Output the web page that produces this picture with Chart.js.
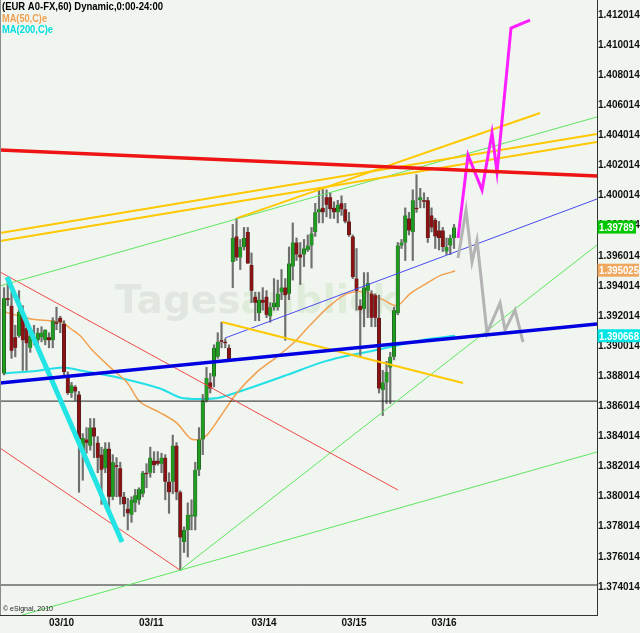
<!DOCTYPE html>
<html>
<head>
<meta charset="utf-8">
<script src="https://cdn.jsdelivr.net/npm/chart.js@4.4.1/dist/chart.umd.min.js"></script>
<style>
html, body { margin: 0; padding: 0; background: #f0f6ef; }
canvas { display: block; }
</style>
</head>
<body>
<canvas id="chart" width="640" height="633"></canvas>
<script>
// EUR A0-FX hourly candles, one entry per bar (x = bar number)
const opens = [
  1.3882, 1.3932, 1.3927, 1.3906, 1.3907, 1.3921, 1.3912, 1.3899, 1.3906, 1.3904,
  1.3906, 1.3904, 1.3906, 1.3904, 1.3916, 1.3919, 1.3915, 1.3881, 1.3869, 1.3873,
  1.3868, 1.3830, 1.3838, 1.3834, 1.3846, 1.3836, 1.3828, 1.3819, 1.3832, 1.3800,
  1.3821, 1.3819, 1.3800, 1.3792, 1.3788, 1.3796, 1.3798, 1.3802, 1.3816, 1.3816,
  1.3824, 1.3824, 1.3822, 1.3826, 1.3810, 1.3810, 1.3834, 1.3803, 1.3770, 1.3778,
  1.3787, 1.3787, 1.3818, 1.3838, 1.3864, 1.3876, 1.3880, 1.3893, 1.3904, 1.3903,
  1.3899, 1.3956, 1.3973, 1.3959, 1.3966, 1.3976, 1.3954, 1.3933, 1.3922, 1.3931,
  1.3933, 1.3920, 1.3926, 1.3926, 1.3936, 1.3939, 1.3935, 1.3953, 1.3969, 1.3961,
  1.3961, 1.3964, 1.3967, 1.3976, 1.3989, 1.3992, 1.3999, 1.3999, 1.3992, 1.3989,
  1.3995, 1.3991, 1.3983, 1.3973, 1.3945, 1.3927, 1.3925, 1.3937, 1.3935, 1.3934,
  1.3919, 1.3871, 1.3876, 1.3886, 1.3893, 1.3922, 1.3967, 1.3969, 1.3985, 1.3976,
  1.3992, 1.3997, 1.3997, 1.3997, 1.3987, 1.3984, 1.3977, 1.3977, 1.3963, 1.3967,
  1.3972
];
const highs = [
  1.3939, 1.3944, 1.3936, 1.3914, 1.3937, 1.3927, 1.3917, 1.3911, 1.3914, 1.3912,
  1.3913, 1.3911, 1.3909, 1.3919, 1.3926, 1.3920, 1.3917, 1.3883, 1.3876, 1.3874,
  1.3870, 1.3842, 1.3846, 1.3852, 1.3852, 1.3840, 1.3833, 1.3836, 1.3836, 1.3828,
  1.3826, 1.3823, 1.3803, 1.3799, 1.3800, 1.3805, 1.3806, 1.3817, 1.3822, 1.3833,
  1.3830, 1.3830, 1.3829, 1.3828, 1.3816, 1.3841, 1.3836, 1.3804, 1.3780, 1.3796,
  1.3798, 1.3823, 1.3846, 1.3868, 1.3886, 1.3882, 1.3901, 1.3909, 1.3916, 1.3905,
  1.3901, 1.3981, 1.3985, 1.3971, 1.3979, 1.3979, 1.3962, 1.3936, 1.3936, 1.3939,
  1.3937, 1.3929, 1.3945, 1.3944, 1.3951, 1.3945, 1.3966, 1.3982, 1.3972, 1.3969,
  1.3971, 1.3974, 1.3979, 1.3995, 1.4004, 1.4005, 1.4004, 1.4002, 1.3996, 1.3997,
  1.4000, 1.3995, 1.3989, 1.3974, 1.3965, 1.3931, 1.3949, 1.3949, 1.3937, 1.3935,
  1.3934, 1.3884, 1.3890, 1.3896, 1.3926, 1.3969, 1.3971, 1.3992, 1.3989, 1.4004,
  1.4014, 1.4005, 1.4002, 1.3999, 1.3992, 1.3985, 1.3983, 1.3979, 1.3972, 1.3974,
  1.3981
];
const lows = [
  1.3881, 1.3927, 1.3892, 1.3893, 1.3906, 1.3884, 1.3884, 1.3896, 1.3901, 1.3899,
  1.3903, 1.3901, 1.3899, 1.3899, 1.3911, 1.3909, 1.3881, 1.3868, 1.3866, 1.3864,
  1.3803, 1.3811, 1.3829, 1.3831, 1.3826, 1.3816, 1.3795, 1.3816, 1.3789, 1.3798,
  1.3800, 1.3795, 1.3787, 1.3778, 1.3783, 1.3790, 1.3795, 1.3800, 1.3806, 1.3813,
  1.3816, 1.3821, 1.3816, 1.3798, 1.3789, 1.3802, 1.3798, 1.3751, 1.3763, 1.3760,
  1.3778, 1.3778, 1.3814, 1.3828, 1.3863, 1.3869, 1.3873, 1.3892, 1.3899, 1.3899,
  1.3890, 1.3939, 1.3957, 1.3951, 1.3964, 1.3955, 1.3929, 1.3917, 1.3917, 1.3924,
  1.3919, 1.3916, 1.3924, 1.3924, 1.3931, 1.3904, 1.3931, 1.3944, 1.3957, 1.3941,
  1.3953, 1.3963, 1.3952, 1.3973, 1.3982, 1.3982, 1.3986, 1.3985, 1.3985, 1.3982,
  1.3987, 1.3982, 1.3973, 1.3945, 1.3924, 1.3893, 1.3913, 1.3919, 1.3913, 1.3913,
  1.3869, 1.3854, 1.3862, 1.3862, 1.3891, 1.3921, 1.3965, 1.3957, 1.3974, 1.3957,
  1.3989, 1.3992, 1.3992, 1.3969, 1.3976, 1.3965, 1.3964, 1.3963, 1.3961, 1.3961,
  1.3965
];
const closes = [
  1.3932, 1.3931, 1.3897, 1.3899, 1.3923, 1.3904, 1.3902, 1.3907, 1.3904, 1.3909,
  1.3909, 1.3911, 1.3904, 1.3917, 1.3915, 1.3916, 1.3883, 1.3869, 1.3874, 1.3870,
  1.3838, 1.3839, 1.3836, 1.3846, 1.3840, 1.3826, 1.3818, 1.3832, 1.3800, 1.3823,
  1.3820, 1.3800, 1.3795, 1.3789, 1.3798, 1.3801, 1.3805, 1.3816, 1.3815, 1.3826,
  1.3821, 1.3822, 1.3826, 1.3810, 1.3803, 1.3834, 1.3803, 1.3773, 1.3778, 1.3788,
  1.3788, 1.3818, 1.3838, 1.3864, 1.3879, 1.3872, 1.3899, 1.3903, 1.3903, 1.3902,
  1.3890, 1.3972, 1.3959, 1.3966, 1.3972, 1.3955, 1.3937, 1.3929, 1.3931, 1.3929,
  1.3921, 1.3926, 1.3929, 1.3935, 1.3939, 1.3934, 1.3955, 1.3969, 1.3961, 1.3959,
  1.3965, 1.3967, 1.3975, 1.3989, 1.3991, 1.3989, 1.3994, 1.3991, 1.3989, 1.3994,
  1.3991, 1.3983, 1.3974, 1.3946, 1.3937, 1.3924, 1.3939, 1.3942, 1.3919, 1.3919,
  1.3872, 1.3876, 1.3883, 1.3893, 1.3924, 1.3967, 1.3969, 1.3987, 1.3977, 1.3997,
  1.3991, 1.3999, 1.3996, 1.3972, 1.3979, 1.3973, 1.3972, 1.3966, 1.3966, 1.3972,
  1.3979
];

// axis ticks
const dayTicks = [12, 36, 66, 90, 114];
const dayLabels = ['03/10', '03/11', '03/14', '03/15', '03/16'];
const priceTicks = [
  1.374014, 1.376014, 1.378014, 1.380014, 1.382014, 1.384014, 1.386014,
  1.388014, 1.390014, 1.392014, 1.394014, 1.396014, 1.398014, 1.400014,
  1.402014, 1.404014, 1.406014, 1.408014, 1.410014, 1.412014
];

// moving averages [bar, price]
const ma50 = [
  [0, 1.3923], [4.3, 1.3920], [7.7, 1.3918], [12.3, 1.3917], [15.5, 1.3916],
  [17.6, 1.3912], [20.3, 1.3907], [23.7, 1.3897], [28.3, 1.3886], [32.8, 1.3876],
  [36.3, 1.3863], [41.6, 1.3856], [46.1, 1.3849], [49.6, 1.3839], [51.7, 1.3838],
  [54.1, 1.3841], [57.6, 1.3853], [62.1, 1.3869], [67.5, 1.3883], [72.8, 1.3893],
  [77.1, 1.3902], [81.6, 1.3914], [86.9, 1.3927], [91.5, 1.3935], [96.8, 1.3936],
  [101, 1.3931], [104.8, 1.3927], [108.3, 1.3935], [112.8, 1.3942], [116.3, 1.3947],
  [120.3, 1.3950]
];
const ma200 = [
  [0, 1.3882], [9.6, 1.3884], [15.7, 1.3886], [20.3, 1.3884], [30.9, 1.3879],
  [41.6, 1.3872], [46.9, 1.3866], [52.3, 1.3865], [57.6, 1.3866], [66.4, 1.3873],
  [75.5, 1.3881], [84.3, 1.3889], [90.4, 1.3893], [98.4, 1.3897], [107.5, 1.3902],
  [113.6, 1.3905], [120.3, 1.3907]
];

// hand drawn trend lines [bar, price]
const redResistance = [[-1.07, 1.40304], [158.13, 1.40132]];
const goldUpperA = [[-1.07, 1.39753], [158.13, 1.40411]];
const goldUpperB = [[-1.07, 1.39700], [158.13, 1.40357]];
const goldFromTop = [[62.13, 1.39852], [142.93, 1.40550]];
const goldDown = [[58.13, 1.39161], [122.4, 1.38756]];
const greenUpper = [[-1.07, 1.39401], [158.13, 1.40524]];
const greenFlat = [[4.8, 1.37214], [158.13, 1.38298]];
const greenSteep = [[46.93, 1.37513], [158.13, 1.39673]];
const blueSupport = [[-1.07, 1.38756], [158.13, 1.39148]];
const blueChannel = [[58.93, 1.39055], [158.13, 1.39979]];
const redChannelTop = [[-1.07, 1.39494], [105.07, 1.38045]];
const redChannelLow = [[-1.07, 1.38324], [46.93, 1.37513]];
const cyanDrop = [[0.8, 1.39460], [31.47, 1.37699]];
const level1386 = [[-1.07, 1.38636], [158.13, 1.38636]];
const level1374 = [[-1.07, 1.37414], [158.13, 1.37414]];

// projected paths
const bullPath = [
  [121.07, 1.39720], [123.73, 1.40271], [127.47, 1.40038], [130.13, 1.40417],
  [131.47, 1.40158], [135.2, 1.41115], [140.27, 1.41168]
];
const bearPath = [
  [121.07, 1.39587], [123.2, 1.39906], [124.8, 1.39560], [126.13, 1.39706],
  [128.8, 1.39088], [132.27, 1.39288], [133.6, 1.39108], [136.27, 1.39241],
  [138.4, 1.39028]
];

// last values shown on the price axis
const lastLabels = ['1.39789', '1.395025', '1.390668'];
const lastPrices = [1.39789, 1.395025, 1.390668];

const bars = opens.map((o, i) => i);
const pts = arr => arr.map(p => ({ x: p[0], y: p[1] }));

function lineSet(data, color, width, order, tension) {
    return {
        type: 'line',
        data: pts(data),
        borderColor: color,
        borderWidth: width,
        pointRadius: 0,
        tension: tension || 0,
        fill: false,
        order: order
    };
}

const FONT = '"Liberation Sans", Arial, sans-serif';

const decor = {
    id: 'decor',
    beforeDraw(chart) {
        const ctx = chart.ctx;
        ctx.save();
        ctx.fillStyle = '#f0f6ef';
        ctx.fillRect(0, 0, chart.width, chart.height);
        // watermark
        ctx.font = 'bold 39px "DejaVu Sans"';
        ctx.textBaseline = 'alphabetic';
        ctx.fillStyle = '#e1e7e0';
        ctx.fillText('Tages', 115, 313);
        const w = ctx.measureText('Tages').width;
        ctx.fillStyle = '#dfecd9';
        ctx.fillText('anblick', 115 + w, 313);
        ctx.restore();
    },
    afterDraw(chart) {
        const ctx = chart.ctx;
        const y = chart.scales.y;
        ctx.save();
        // left frame
        ctx.strokeStyle = '#8a8a8a';
        ctx.lineWidth = 1;
        ctx.beginPath();
        ctx.moveTo(0.5, 0);
        ctx.lineTo(0.5, chart.chartArea.bottom);
        ctx.stroke();

        // header
        ctx.textBaseline = 'middle';
        ctx.font = 'bold 11px ' + FONT;
        fitText(ctx, '(EUR A0-FX,60) Dynamic,0:00-24:00', 2, 7, 161, '#000');
        fitText(ctx, 'MA(50,C)e', 2, 18.5, 45, '#f0a050');
        fitText(ctx, 'MA(200,C)e', 2, 30, 51, '#00dede');

        ctx.font = '7px ' + FONT;
        ctx.fillStyle = '#222';
        ctx.fillText('\u00a9 eSignal, 2010', 3, 609);

        // last value boxes
        const boxColors = ['#00c800', '#f0a860', '#00e6e6'];
        const boxRight = [636, 639, 640];
        ctx.font = 'bold 11px ' + FONT;
        lastPrices.forEach((p, k) => {
            const py = y.getPixelForValue(p);
            ctx.fillStyle = boxColors[k];
            ctx.fillRect(597.5, py - 7, boxRight[k] - 597.5, 13);
            fitText(ctx, lastLabels[k], 599, py + 0.5, lastLabels[k].length * 5, '#fff');
        });
        ctx.restore();
    }
};

function fitText(ctx, text, x, y, width, color) {
    const m = ctx.measureText(text).width;
    ctx.save();
    ctx.fillStyle = color;
    ctx.translate(x, y);
    ctx.scale(Math.min(1.2, width / m), 1);
    ctx.fillText(text, 0, 0);
    ctx.restore();
}

document.addEventListener('DOMContentLoaded', function() {
    const ctx = document.getElementById('chart').getContext('2d');
    new Chart(ctx, {
        type: 'bar',
        data: {
            datasets: [
                lineSet(redResistance, '#ee1414', 3.5, 1),
                lineSet(blueSupport, '#0000e0', 3.5, 1),
                lineSet(bullPath, '#ff1eff', 3, 1),
                lineSet(bearPath, '#b4b4b4', 3, 1),
                lineSet(cyanDrop, '#22e4e4', 5, 2),
                lineSet(goldUpperA, '#ffc800', 2, 3),
                lineSet(goldUpperB, '#ffc800', 2, 3),
                lineSet(goldFromTop, '#ffc800', 2, 3),
                lineSet(goldDown, '#ffc800', 2, 3),
                lineSet(greenUpper, '#5fe55f', 1, 4),
                lineSet(greenFlat, '#5fe55f', 1, 4),
                lineSet(greenSteep, '#5fe55f', 1, 4),
                lineSet(blueChannel, '#4a4af0', 1, 4),
                lineSet(redChannelTop, '#f04848', 1, 4),
                lineSet(redChannelLow, '#f04848', 1, 4),
                lineSet(level1386, '#222222', 1, 4),
                lineSet(level1374, '#222222', 1, 4),
                {
                    type: 'bar',
                    data: bars.map(i => ({ x: i, y: [opens[i], closes[i]] })),
                    backgroundColor: bars.map(i => closes[i] >= opens[i] ? '#1f9d1f' : '#8a1212'),
                    borderColor: '#2a2a2a',
                    borderWidth: { left: 0.5, right: 0.5, top: 0, bottom: 0 },
                    borderSkipped: false,
                    barThickness: 3.5,
                    minBarLength: 1,
                    grouped: false,
                    order: 10
                },
                {
                    type: 'bar',
                    data: bars.map(i => ({ x: i, y: [lows[i], highs[i]] })),
                    backgroundColor: '#6f6f6f',
                    barThickness: 1.5,
                    grouped: false,
                    order: 11
                },
                lineSet(ma50, '#f2a050', 1.5, 12, 0.3),
                lineSet(ma200, '#22e0e6', 2, 12, 0.3)
            ]
        },
        options: {
            responsive: false,
            animation: false,
            devicePixelRatio: 1,
            layout: { padding: 0 },
            plugins: {
                legend: { display: false },
                tooltip: { enabled: false }
            },
            scales: {
                x: {
                    type: 'linear',
                    min: -1.07,
                    max: 158.13,
                    offset: false,
                    grid: { display: false, drawTicks: false },
                    border: { display: true, color: '#333', width: 1 },
                    afterBuildTicks: s => { s.ticks = dayTicks.map(v => ({ value: v })); },
                    afterFit: s => { s.height = 18; s.paddingLeft = 0; s.paddingRight = 0; },
                    ticks: {
                        align: 'start',
                        padding: 2,
                        autoSkip: false,
                        maxRotation: 0,
                        color: '#111',
                        font: { family: FONT, size: 10, weight: 'bold' },
                        callback: (v, i) => dayLabels[i]
                    }
                },
                y: {
                    position: 'right',
                    min: 1.372147,
                    max: 1.413011,
                    grid: { display: false, drawTicks: false },
                    border: { display: true, color: '#333', width: 1 },
                    afterBuildTicks: s => { s.ticks = priceTicks.map(v => ({ value: v })); },
                    afterFit: s => { s.width = 43; s.paddingTop = 0; s.paddingBottom = 0; },
                    ticks: {
                        padding: 1,
                        autoSkip: false,
                        color: '#111',
                        font: { family: FONT, size: 10, weight: 'bold' },
                        callback: v => v.toFixed(6)
                    }
                }
            }
        },
        plugins: [decor]
    });
});
</script>
</body>
</html>
